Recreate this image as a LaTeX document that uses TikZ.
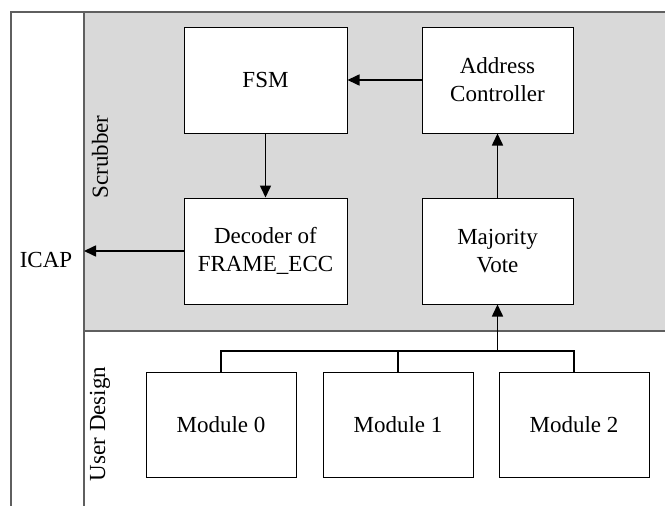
\documentclass[tikz,border=0pt]{standalone}
\usepackage{fontspec}
\setmainfont{Liberation Serif}
\usetikzlibrary{arrows.meta}
\definecolor{panelgray}{HTML}{D9D9D9}
\definecolor{framegray}{HTML}{5F5F5F}
\begin{document}
\begin{tikzpicture}[x=1pt,y=-1pt,
  font=\fontsize{23}{28}\selectfont,
  blockbox/.style={draw=black, fill=white, line width=1pt, align=center, inner sep=0pt},
  flow/.style={line width=1.6pt, -{Triangle[length=12pt,width=11pt]}},
  wire/.style={line width=1.6pt},
  frame/.style={draw=framegray, line width=1.4pt}]
\useasboundingbox (0,0) rectangle (665,506);

% scrubber panel
\fill[panelgray] (84,12) rectangle (665,331);
\draw[frame] (11,506) -- (11,12) -- (665,12);
\draw[frame] (84,12) -- (84,506);
\draw[frame] (84,331) -- (665,331);

% side labels
\node (icap) at (46,260) {ICAP};
\node[rotate=90] (scrub) at (100,157) {Scrubber};
\node[rotate=90] (user) at (100,424) {User Design};

% scrubber blocks
\node[blockbox, minimum width=163pt, minimum height=106pt] (fsm) at (265.5,80) {FSM};
\node[blockbox, minimum width=163pt, minimum height=106pt] (dec) at (265.5,251) {Decoder of\\FRAME\_ECC};
\node[blockbox, minimum width=151pt, minimum height=106pt] (addr) at (497.5,80) {Address\\Controller};
\node[blockbox, minimum width=151pt, minimum height=106pt] (maj) at (497.5,251) {Majority\\Vote};

% user design modules
\node[blockbox, minimum width=150pt, minimum height=105pt] (m0) at (221,424.5) {Module 0};
\node[blockbox, minimum width=150pt, minimum height=105pt] (m1) at (398,424.5) {Module 1};
\node[blockbox, minimum width=150pt, minimum height=105pt] (m2) at (574,424.5) {Module 2};

% control and data flow
\coordinate (icapin) at (84,251);
\draw[flow] (addr.west) -- (fsm.east);
\draw[flow] (fsm.south) -- (dec.north);
\draw[flow] (maj.north) -- (addr.south);
\draw[flow] (dec.west) -- (icapin);

% module outputs gathered on one bus
\coordinate (bus0) at (m0.north |- 0,351);
\coordinate (bus1) at (m1.north |- 0,351);
\coordinate (bus2) at (m2.north |- 0,351);
\coordinate (busv) at (maj.south |- 0,351);
\draw[wire] (m0.north) -- (bus0) -- (bus2) -- (m2.north);
\draw[wire] (m1.north) -- (bus1);
\draw[flow] (busv) -- (maj.south);
\end{tikzpicture}
\end{document}
